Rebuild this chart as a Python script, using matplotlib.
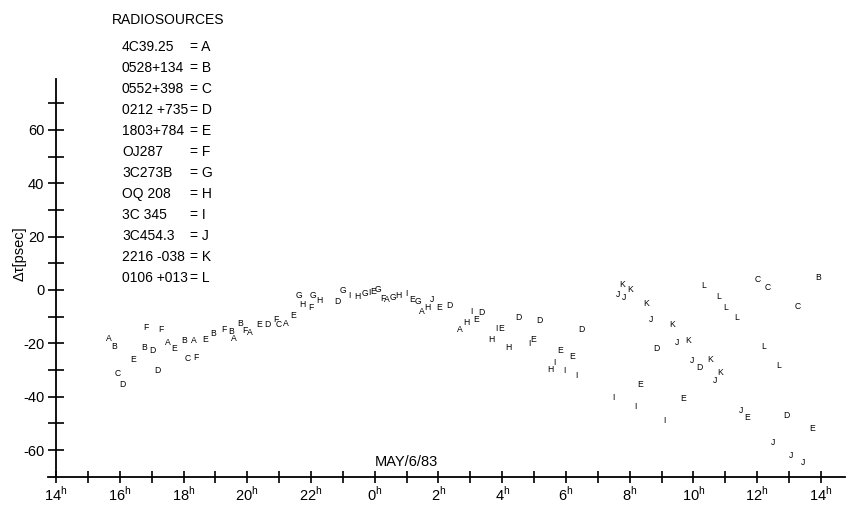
import numpy as np
import matplotlib
matplotlib.use("Agg")
import matplotlib.pyplot as plt

plt.rcParams["font.family"] = ["Liberation Sans", "DejaVu Sans"]
plt.rcParams["mathtext.fontset"] = "custom"
plt.rcParams["mathtext.rm"] = "Liberation Sans"

# time in hours, continuous from 14h on the first day (values >24 are next day)
# delay residuals in psec
A_t = [15.67, 17.50, 18.34, 19.59, 20.09, 21.21, 24.39, 25.49, 26.67]
A_d = [-18.1, -19.8, -19.1, -18.1, -16.0, -12.5, -3.5, -8.1, -14.7]
B_t = [15.83, 16.77, 18.02, 18.93, 19.49, 19.77, 37.92]
B_d = [-21.0, -21.6, -19.1, -16.5, -15.6, -12.75, 4.6]
C_t = [15.95, 18.12, 21.00, 36.01, 36.33, 37.27]
C_d = [-31.2, -25.6, -12.9, 4.0, 0.9, -6.3]
D_t = [16.09, 17.03, 17.19, 20.64, 22.84, 26.33, 27.36, 28.50, 29.16, 30.49, 32.85, 34.17, 36.92]
D_d = [-35.6, -22.5, -30.0, -12.9, -4.4, -6.0, -8.5, -10.4, -11.5, -15.0, -22.1, -29.1, -47.1]
E_t = [16.43, 17.70, 18.67, 20.37, 21.44, 23.95, 25.16, 26.02, 27.17, 27.96, 28.97,
       29.83, 30.18, 32.34, 33.66, 35.67, 37.71]
E_d = [-26.2, -21.9, -18.4, -12.9, -9.4, -0.6, -3.5, -6.6, -10.9, -14.4, -18.5,
       -22.5, -24.75, -35.6, -40.6, -47.9, -52.1]
F_t = [16.82, 17.29, 18.38, 19.28, 19.93, 20.89, 21.99, 24.25]
F_d = [-14.0, -14.7, -25.2, -15.0, -15.3, -11.25, -6.6, -3.1]
G_t = [21.63, 22.07, 23.01, 23.69, 24.11, 24.56, 25.37]
G_d = [-2.25, -2.25, -0.3, -1.5, 0.0, -2.7, -4.4]
H_t = [21.74, 22.26, 23.45, 24.74, 25.66, 26.86, 27.65, 28.19, 29.50]
H_d = [-5.4, -4.1, -2.5, -2.25, -6.6, -12.1, -18.4, -21.5, -29.7]
I_t = [23.22, 23.83, 25.00, 27.04, 27.83, 28.84, 29.65, 29.94, 30.34, 31.50, 32.19, 33.08]
I_d = [-1.9, -1.0, -1.2, -8.1, -14.4, -20.0, -27.3, -30.0, -31.9, -40.4, -43.8, -49.0]
J_t = [25.81, 31.64, 31.82, 32.66, 33.47, 33.97, 34.67, 35.49, 36.50, 37.05, 37.45]
J_d = [-3.5, -1.6, -2.9, -11.0, -19.6, -26.25, -34.0, -45.3, -57.3, -61.9, -64.8]
K_t = [31.77, 32.01, 32.50, 33.34, 33.84, 34.52, 34.85]
K_d = [1.9, 0.0, -5.0, -13.1, -19.1, -25.9, -30.9]
L_t = [34.33, 34.78, 35.02, 35.36, 36.19, 36.66]
L_d = [1.5, -2.5, -6.5, -10.4, -21.3, -28.4]

letters = ["A", "B", "C", "D", "E", "F", "G", "H", "I", "J", "K", "L"]
sources = ["4C39.25", "0528+134", "0552+398", "0212 +735", "1803+784", "OJ287",
           "3C273B", "OQ 208", "3C 345", "3C454.3", "2216 -038", "0106 +013"]
times = [A_t, B_t, C_t, D_t, E_t, F_t, G_t, H_t, I_t, J_t, K_t, L_t]
delays = [A_d, B_d, C_d, D_d, E_d, F_d, G_d, H_d, I_d, J_d, K_d, L_d]

hour_ticks = list(range(14, 39, 2))
hour_labels = [r"%d$^{\mathrm{h}}$" % (h % 24) for h in hour_ticks]

W, H = 851, 505
fig = plt.figure(figsize=(W / 100, H / 100), dpi=100)
ax = fig.add_axes([48 / W, (H - 476.7) / H, (845 - 48) / W, (476.7 - 79) / H])
ax.set_xlim(13.749, 38.753)
ax.set_ylim(-70, 79.1)

for let, t, d in zip(letters, times, delays):
    for x, y in zip(t, d):
        ax.text(x, y, let, fontsize=6.2, ha="center", va="center")

for s in ["top", "right"]:
    ax.spines[s].set_visible(False)
ax.spines["left"].set_position(("data", 14))
ax.spines["left"].set_linewidth(1.3)
ax.spines["bottom"].set_linewidth(1.3)

ax.set_xticks(hour_ticks)
ax.set_xticklabels(hour_labels, fontsize=10.5)
ax.set_xticks(np.arange(15, 38, 2), minor=True)
ax.tick_params(axis="x", which="both", direction="inout", length=8, width=1.2, pad=2)

ax.set_yticks(np.arange(-60, 61, 20))
ax.set_yticklabels(["-60", "-40", "-20", "0", "20", "40", "60"], fontsize=10.5)
ax.set_yticks(np.arange(-50, 71, 20), minor=True)
ax.tick_params(axis="y", which="both", direction="inout", length=11, width=1.2, pad=3)

fig.text(20 / W, 1 - 254 / H, "Δτ[psec]", rotation=90, fontsize=10.5,
         ha="center", va="center")

fig.text(112 / W, 1 - 20 / H, "RADIOSOURCES", fontsize=10, va="center")
for i, (name, let) in enumerate(zip(sources, letters)):
    yy = 1 - (46.7 + 21.05 * i) / H
    fig.text(122 / W, yy, name, fontsize=10, va="center")
    fig.text(190 / W, yy, "= " + let, fontsize=10, va="center")

fig.text(375 / W, 1 - 461.7 / H, "MAY/6/83", fontsize=10.5, va="center")

fig.savefig("out.png", dpi=100)
